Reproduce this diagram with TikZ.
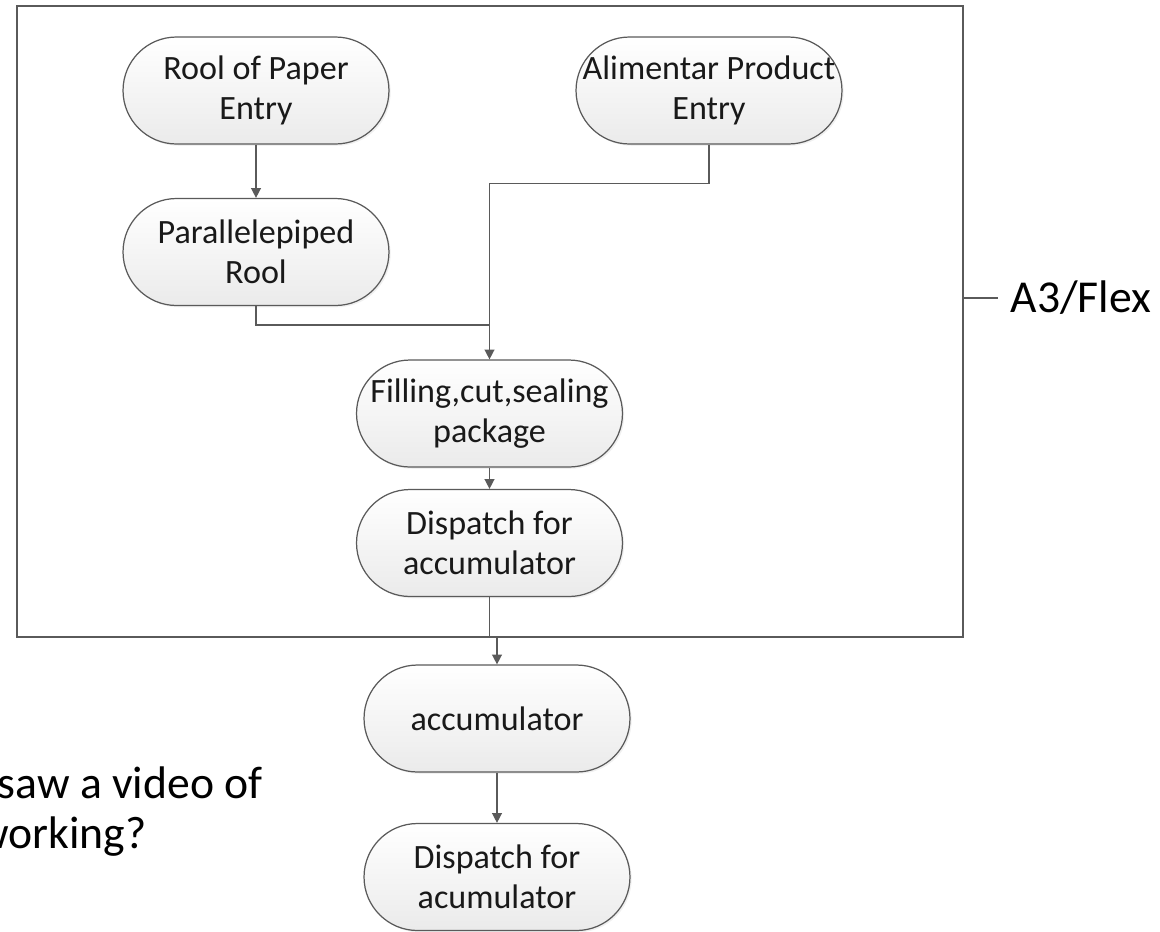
\documentclass[tikz,border=0pt]{standalone}
\usepackage{fontspec}
\setmainfont{Carlito}
\usetikzlibrary{arrows.meta,shadows}
\definecolor{linegray}{HTML}{5A5A5A}
\begin{document}
\begin{tikzpicture}[x=0.02cm, y=-0.02cm,
    procbox/.style={rectangle, draw=linegray, line width=0.7pt,
      rounded corners=1.07cm, minimum width=5.32cm, minimum height=2.14cm,
      inner sep=0pt, align=center, top color=white, bottom color=gray!16,
      font=\fontsize{19.4}{22.8}\selectfont, text=black!90,
      drop shadow={opacity=0.12, shadow xshift=1pt, shadow yshift=-1pt}},
    arrow/.style={-{Triangle[length=5.5pt,width=5.5pt]}, line width=0.8pt,
      draw=linegray},
    link/.style={line width=0.8pt, draw=linegray},
    note/.style={font=\fontsize{26}{31}\selectfont, inner sep=0pt}
  ]
  \useasboundingbox (0,0) rectangle (1160,931);
  \node[draw=linegray, line width=0.8pt, minimum width=18.92cm,
    minimum height=12.62cm, inner sep=0pt] (group) at (490,321.5) {};
  \node[procbox] (paper) at (256,90.5) {Rool of Paper\\Entry};
  \node[procbox] (alim)  at (709,90.5) {Alimentar Product\\Entry};
  \node[procbox] (para)  at (256,252)  {Parallelepiped\\Rool};
  \node[procbox] (fill)  at (489.5,413.5) {Filling,cut,sealing\\package};
  \node[procbox] (disp)  at (489.5,543) {Dispatch for\\accumulator};
  \node[procbox] (acc)   at (497,718.5) {accumulator};
  \node[procbox] (acc2)  at (497,877)  {Dispatch for\\acumulator};
  \node[note, anchor=west, inner xsep=7pt] (flex) at (998,298) {A3/Flex};
  \node[note, anchor=base east] (q1) at (263,798) {saw a video of};
  \node[note, anchor=base east] (q2) at (147,848) {working?};
  \coordinate (join) at (489.5,325);
  \foreach \a/\b in {paper/para,fill/disp,acc/acc2}
  {\draw[arrow] (\a) -- (\b);}
  \draw[link] (para.south) |- (join);
  \draw[arrow] (alim.south) -- ++(0,39) -| (fill.north);
  \draw[arrow] (disp.south) -- (disp.south |- group.south) -| (acc.north);
  \draw[link] (group.east |- flex.west) -- (flex.west);
\end{tikzpicture}
\end{document}
